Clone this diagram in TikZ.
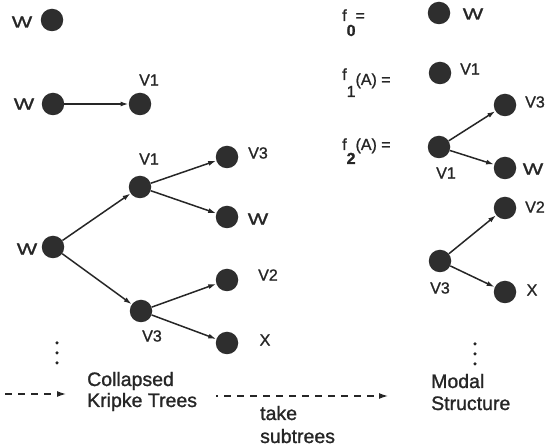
\documentclass[tikz,border=0pt]{standalone}
\usepackage{graphicx}
\usepackage{fontspec}
\setmainfont{Liberation Sans}[FakeBold=1.2]
\usetikzlibrary{arrows.meta}
\newcommand{\WW}{\scalebox{1.35}[1]{W}}
\begin{document}
\begin{tikzpicture}[x=1pt,y=-1pt,
  dot/.style={circle,fill=black!82,inner sep=0pt,minimum size=22.5pt},
  lab/.style={font=\fontsize{16}{16}\selectfont,inner sep=0pt,anchor=center,text=black!85},
  big/.style={font=\fontsize{19.5}{21}\selectfont,inner sep=0pt,anchor=base west,text=black!85},
  flab/.style={font=\fontsize{16}{16}\selectfont,inner sep=0pt,anchor=base west,text=black!85},
  arr/.style={-{Latex[length=8pt,width=5pt]},line width=1.5pt,draw=black!85},
  dsh/.style={-{Latex[length=9pt,width=6pt]},line width=1.3pt,draw=black!85,dash pattern=on 7pt off 6pt},
  vdot/.style={circle,fill=black!85,inner sep=0pt,minimum size=3.5pt}
]
\useasboundingbox (0,0) rectangle (550,446);

% ---- left column ----
\node[dot] (a0) at (52,20) {};
\node[lab] at (22,22) {\WW};

\node[dot] (b0) at (53,104) {};
\node[dot] (b1) at (140,104) {};
\node[lab] at (24,104) {\WW};
\node[lab] at (149,80) {V1};
\draw[arr] (b0) -- (b1);

\node[dot] (c0) at (53,247) {};
\node[dot] (c1) at (140,187) {};
\node[dot] (c2) at (141,311) {};
\node[dot] (c11) at (227,157) {};
\node[dot] (c12) at (227,217) {};
\node[dot] (c21) at (227,280) {};
\node[dot] (c22) at (227,343) {};
\node[lab] at (27,249) {\WW};
\node[lab] at (149,159) {V1};
\node[lab] at (152,336) {V3};
\node[lab] at (258,153) {V3};
\node[lab] at (258,219) {\WW};
\node[lab] at (268,275) {V2};
\node[lab] at (265,340) {X};
\draw[arr] (c0) -- (c1);
\draw[arr] (c0) -- (c2);
\draw[arr] (c1) -- (c11);
\draw[arr] (c1) -- (c12);
\draw[arr] (c2) -- (c21);
\draw[arr] (c2) -- (c22);

\node[vdot] (ld1) at (57,343) {};
\node[vdot] (ld2) at (57,353) {};
\node[vdot] (ld3) at (57,363) {};

% ---- right column ----
\node[flab] (f0) at (342,21) {f\raisebox{-15pt}{\textbf{0}}=};
\node[flab] (f1) at (342,80) {f\raisebox{-17pt}{1}\raisebox{-5pt}{(A) =}};
\node[flab] (f2) at (342,150) {f\raisebox{-14pt}{\textbf{2}}(A) =};

\node[dot] (r0) at (439,13) {};
\node[lab] at (473,14) {\WW};
\node[dot] (r1) at (440,73) {};
\node[lab] at (470,69) {V1};

\node[dot] (s0) at (439,147) {};
\node[dot] (s1) at (505,105) {};
\node[dot] (s2) at (505,168) {};
\node[lab] at (446,173) {V1};
\node[lab] at (535,102) {V3};
\node[lab] at (533,169) {\WW};
\draw[arr] (s0) -- (s1);
\draw[arr] (s0) -- (s2);

\node[dot] (t0) at (440,261) {};
\node[dot] (t1) at (505,208) {};
\node[dot] (t2) at (505,292) {};
\node[lab] at (440,288) {V3};
\node[lab] at (535,207) {V2};
\node[lab] at (532,290) {X};
\draw[arr] (t0) -- (t1);
\draw[arr] (t0) -- (t2);

\node[vdot] (rd1) at (475,344) {};
\node[vdot] (rd2) at (475,354) {};
\node[vdot] (rd3) at (475,364) {};

% ---- bottom captions and dashed arrows ----
\coordinate (la) at (5,394);
\coordinate (lb) at (66,394);
\draw[dsh] (la) -- (lb);
\node[big] (col) at (87,386) {Collapsed};
\node[big] (kri) at (87,407) {Kripke Trees};

\coordinate (ra) at (216,396);
\coordinate (rb) at (388,396);
\draw[dsh,dash pattern=on 2pt off 6pt on 7pt off 6pt on 7pt off 6pt on 7pt off 6pt on 7pt off 6pt on 7pt off 6pt on 7pt off 6pt on 7pt off 6pt on 7pt off 6pt on 7pt off 6pt on 7pt off 6pt on 7pt off 6pt on 7pt off 6pt on 20pt off 0pt] (ra) -- (rb);
\node[big] (tak) at (260,420) {take};
\node[big] (sub) at (260,443) {subtrees};

\node[big] (mod) at (431,388) {Modal};
\node[big] (str) at (431,410) {Structure};
\end{tikzpicture}
\end{document}
